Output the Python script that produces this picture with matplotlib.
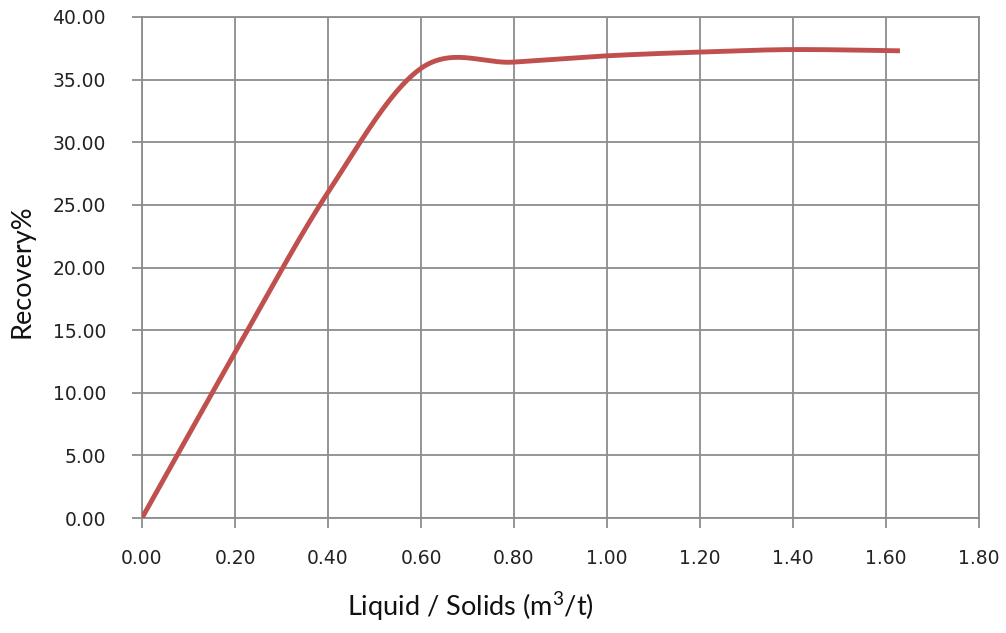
import numpy as np
import matplotlib
matplotlib.use("Agg")
import matplotlib.pyplot as plt

# datos
liquid_solids = [0.00, 0.20, 0.40, 0.60, 0.80, 1.00, 1.20, 1.40, 1.63]
recovery = [0.00, 13.2, 26.0, 35.9, 36.4, 36.9, 37.2, 37.4, 37.3]

x_ticks = np.arange(0, 1.81, 0.2)
y_ticks = np.arange(0, 40.1, 5)

plt.rcParams["mathtext.fontset"] = "custom"
plt.rcParams["mathtext.rm"] = "Lato"
plt.rcParams["mathtext.it"] = "Lato"


def smooth(xs, ys, n=40):
    # curva suavizada tipo Excel (Bezier con puntos de control Catmull-Rom)
    p = np.column_stack([xs, ys])
    p = np.vstack([p[0], p, p[-1]])
    out = []
    for i in range(1, len(p) - 2):
        p0, p1, p2, p3 = p[i - 1], p[i], p[i + 1], p[i + 2]
        c1 = p1 + (p2 - p0) / 6
        c2 = p2 - (p3 - p1) / 6
        t = np.linspace(0, 1, n)[:, None]
        seg = ((1 - t) ** 3) * p1 + 3 * ((1 - t) ** 2) * t * c1 + 3 * (1 - t) * t ** 2 * c2 + t ** 3 * p2
        out.append(seg if i == 1 else seg[1:])
    out = np.vstack(out)
    return out[:, 0], out[:, 1]


fig = plt.figure(figsize=(10.06, 6.33), dpi=100)
ax = fig.add_axes([142 / 1006, 1 - 518 / 633, (979 - 142) / 1006, (518 - 17) / 633])

sx, sy = smooth(liquid_solids, recovery)
ax.plot(sx, sy, color="#C0504D", lw=3.5, solid_capstyle="butt", zorder=3)

ax.set_xlim(0, 1.8)
ax.set_ylim(0, 40)
ax.set_xticks(x_ticks)
ax.set_yticks(y_ticks)
ax.set_xticklabels([f"{v:.2f}" for v in x_ticks])
ax.set_yticklabels([f"{v:.2f}" for v in y_ticks])
ax.grid(True, color="#8c8c8c", lw=1.3)
ax.set_axisbelow(True)
for s in ax.spines.values():
    s.set_color("#8c8c8c")
    s.set_linewidth(1.3)
ax.tick_params(colors="#8c8c8c", length=7, width=1.3, labelcolor="#222222",
               labelsize=13.5)
ax.tick_params(axis="y", pad=19)
ax.tick_params(axis="x", pad=15)
for lab in ax.get_xticklabels() + ax.get_yticklabels():
    lab.set_family(["DejaVu Sans"])

fig.text(470 / 1006, 1 - 607 / 633, "Liquid / Solids (m$^3$/t)", ha="center", va="center",
         fontsize=19.5, family=["Lato", "DejaVu Sans"], color="#111111")
fig.text(22 / 1006, 1 - 271 / 633, "Recovery%", ha="center", va="center", rotation=90,
         fontsize=19.5, family=["Lato", "DejaVu Sans"], color="#111111")

fig.savefig("out.png", dpi=100)
